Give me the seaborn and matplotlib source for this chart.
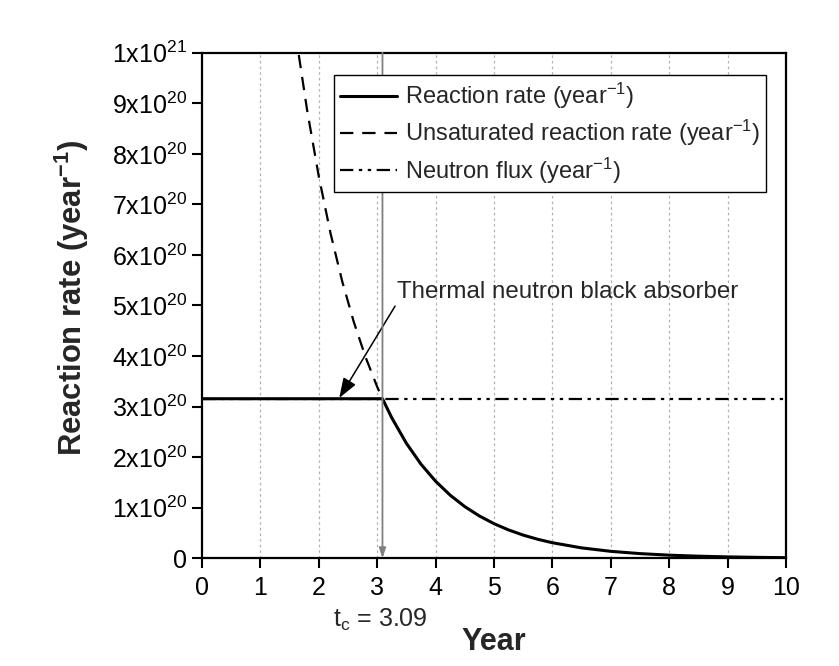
import matplotlib
matplotlib.use("Agg")
import matplotlib.pyplot as plt
import seaborn as sns

# values (rates in year^-1)
flux_years = [0, 10]
flux = [3.156e20, 3.156e20]

reaction_years = [0, 3.09, 3.25, 3.5, 3.75, 4.0, 4.25, 4.5, 4.75, 5.0, 5.25, 5.5,
                  5.75, 6.0, 6.5, 7.0, 7.5, 8.0, 8.5, 9.0, 9.5, 10.0]
reaction_rate = [3.156e20, 3.156e20, 2.777e20, 2.274e20, 1.861e20, 1.524e20, 1.248e20,
                 1.022e20, 0.837e20, 0.685e20, 0.561e20, 0.459e20, 0.376e20, 0.308e20,
                 0.206e20, 0.138e20, 0.093e20, 0.062e20, 0.042e20, 0.028e20, 0.019e20,
                 0.0125e20]

unsat_years = [1.6, 1.8, 2.0, 2.2, 2.4, 2.6, 2.8, 3.0, 3.09]
unsat_rate = [10.39e20, 8.86e20, 7.55e20, 6.43e20, 5.48e20, 4.67e20, 3.98e20,
              3.39e20, 3.156e20]

t_c = 3.09
x_ticks = list(range(0, 11))
y_ticks = [i * 1e20 for i in range(0, 11)]
y_labels = ["0"] + ["%dx10$^{20}$" % i for i in range(1, 10)] + ["1x10$^{21}$"]

sns.set_style("ticks")
plt.rcParams["font.family"] = ["Liberation Sans", "DejaVu Sans"]
plt.rcParams["mathtext.fontset"] = "custom"
plt.rcParams["mathtext.rm"] = "Liberation Sans"
plt.rcParams["mathtext.bf"] = "Liberation Sans:bold"
plt.rcParams["mathtext.default"] = "regular"

fig = plt.figure(figsize=(8.39, 6.66), dpi=100)
ax = fig.add_axes([0.2408, 0.1617, 0.696, 0.7592])

for xv in range(1, 10):
    ax.axvline(xv, color="#b0b0b0", lw=0.9, ls=(0, (2, 2.5)), zorder=0)

sns.lineplot(x=reaction_years, y=reaction_rate, ax=ax, color="black", lw=2.2,
             label="Reaction rate (year$^{-1}$)", zorder=4)
sns.lineplot(x=unsat_years, y=unsat_rate, ax=ax, color="black", lw=1.6,
             linestyle=(0, (6, 4)), label="Unsaturated reaction rate (year$^{-1}$)", zorder=3)
sns.lineplot(x=flux_years, y=flux, ax=ax, color="black", lw=1.6,
             linestyle=(0, (6, 2.5, 1.5, 2.5, 1.5, 2.5)), label="Neutron flux (year$^{-1}$)",
             zorder=2)

# critical time marker
ax.annotate("", xy=(t_c, 0), xytext=(t_c, 1e21),
            arrowprops=dict(arrowstyle="-|>,head_length=0.6,head_width=0.2",
                            color="#808080", lw=1.3, shrinkA=0, shrinkB=0), zorder=5)
ax.text(3.05, -1.22e20, "t$_c$ = 3.09", ha="center", va="center", fontsize=18,
        clip_on=False)

ax.annotate("Thermal neutron black absorber", xy=(2.35, 3.17e20), xytext=(3.34, 5.27e20),
            fontsize=17.4, ha="left", va="center",
            arrowprops=dict(arrowstyle="-|>,head_length=0.7,head_width=0.25",
                            color="black", lw=1.1, shrinkA=0, shrinkB=0,
                            relpos=(0.0, 0.0)))

ax.set_xlim(0, 10)
ax.set_ylim(0, 1e21)
ax.set_xticks(x_ticks)
ax.set_yticks(y_ticks)
ax.set_yticklabels(y_labels)
ax.tick_params(labelsize=18, width=1.5, length=7, pad=4, direction="out", colors="black")
ax.tick_params(axis="x", pad=6)
for s in ax.spines.values():
    s.set_linewidth(1.6)
    s.set_color("black")

ax.set_xlabel("Year", fontsize=22, fontweight="bold")
ax.set_ylabel("Reaction rate (year$^{\\mathbf{-1}}$)", fontsize=22.3, fontweight="bold")
ax.xaxis.set_label_coords(0.5, -0.135)
ax.yaxis.set_label_coords(-0.19, 0.515)

leg = ax.legend(loc="upper right", bbox_to_anchor=(0.966, 0.956), fontsize=17,
                frameon=True, fancybox=False, edgecolor="black", framealpha=1,
                handlelength=2.4, handletextpad=0.35, labelspacing=0.3, borderpad=0.25,
                borderaxespad=0)
leg.get_frame().set_linewidth(1.0)

fig.savefig("out.png", dpi=100)
